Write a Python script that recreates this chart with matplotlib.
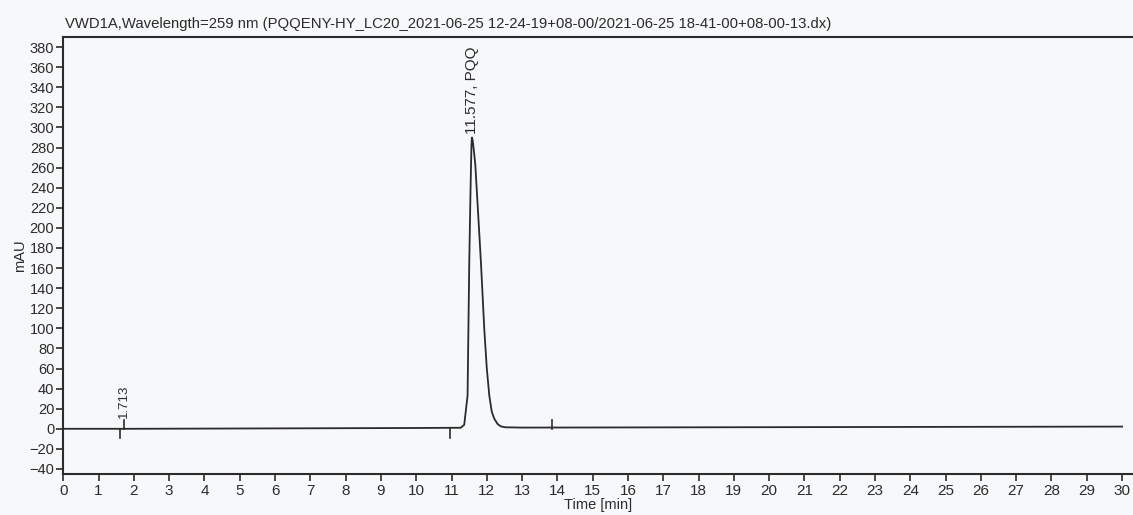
import matplotlib
matplotlib.use("Agg")
import matplotlib.pyplot as plt

# ---- data ----
time_min = [0.0, 1.0, 1.6, 1.8, 5.0, 10.0, 11.0, 11.26, 11.36, 11.455, 11.503,
            11.54, 11.565, 11.577, 11.60, 11.63, 11.674, 11.75, 11.833, 11.929,
            12.0, 12.071, 12.14, 12.213, 12.30, 12.39, 12.52, 13.0, 15.0, 20.0,
            25.0, 30.0]
signal_mau = [0.0, 0.0, 0.0, 0.0, 0.3, 0.8, 1.0, 1.0, 4.0, 33.0, 166.0,
              240.0, 282.0, 290.0, 287.0, 278.0, 263.0, 217.0, 166.0, 99.0,
              60.0, 33.0, 17.0, 10.0, 5.0, 2.5, 1.5, 1.2, 1.3, 1.6,
              1.9, 2.2]

peak_times = [1.713, 11.577]
peak_labels = ["1.713", "11.577, PQQ"]
peak_heights = [0.0, 290.0]

event_down_times = [1.61, 10.97]   # ticks drawn below baseline
event_up_times = [1.713, 13.84]    # ticks drawn above baseline

x_ticks = list(range(0, 31))
y_ticks = list(range(-40, 381, 20))

title = ("VWD1A,Wavelength=259 nm (PQQENY-HY_LC20_2021-06-25 12-24-19+08-00/"
         "2021-06-25 18-41-00+08-00-13.dx)")

# ---- plotting ----
plt.rcParams['font.family'] = ['Liberation Sans', 'DejaVu Sans']
ink = '#2b2b2b'
paper = '#f7f8fa'

fig = plt.figure(figsize=(11.33, 5.15), dpi=100, facecolor=paper)
ax = fig.add_axes([63.3 / 1133, 1 - 474 / 515, 1 - 63.3 / 1133, (474 - 37) / 515])
ax.set_facecolor(paper)

ax.plot(time_min, signal_mau, color=ink, lw=1.3, solid_joinstyle='round')

for t in event_down_times:
    ax.plot([t, t], [0, -9], color=ink, lw=1.2)
for t in event_up_times:
    ax.plot([t, t], [0, 9], color=ink, lw=1.2)

label_sizes = [9.5, 11]
for t, lab, h, fs in zip(peak_times, peak_labels, peak_heights, label_sizes):
    base = h + 3 if h > 0 else 11
    ax.text(t, base, lab, rotation=90, ha='center', va='bottom',
            fontsize=fs, color=ink)

ax.set_xlim(0, 30.31)
ax.set_ylim(-45, 390)
ax.set_xticks(x_ticks)
ax.set_yticks(y_ticks)
ax.tick_params(axis='both', direction='out', length=5, width=1.2,
               colors=ink)
ax.tick_params(axis='x', labelsize=11, pad=2.5)
ax.tick_params(axis='y', labelsize=10.5, pad=1.5)
for s in ['left', 'bottom', 'top']:
    ax.spines[s].set_color(ink)
    ax.spines[s].set_linewidth(1.5)
ax.spines['right'].set_visible(False)

ax.set_xlabel('Time [min]', fontsize=10.5, color=ink, labelpad=0)
ax.set_ylabel('mAU', fontsize=10.5, color=ink, labelpad=2)
fig.text(65 / 1133, 1 - 24 / 515, title, ha='left', va='center',
         fontsize=10.7, color=ink)

fig.savefig('out.png', dpi=100, facecolor=paper)
